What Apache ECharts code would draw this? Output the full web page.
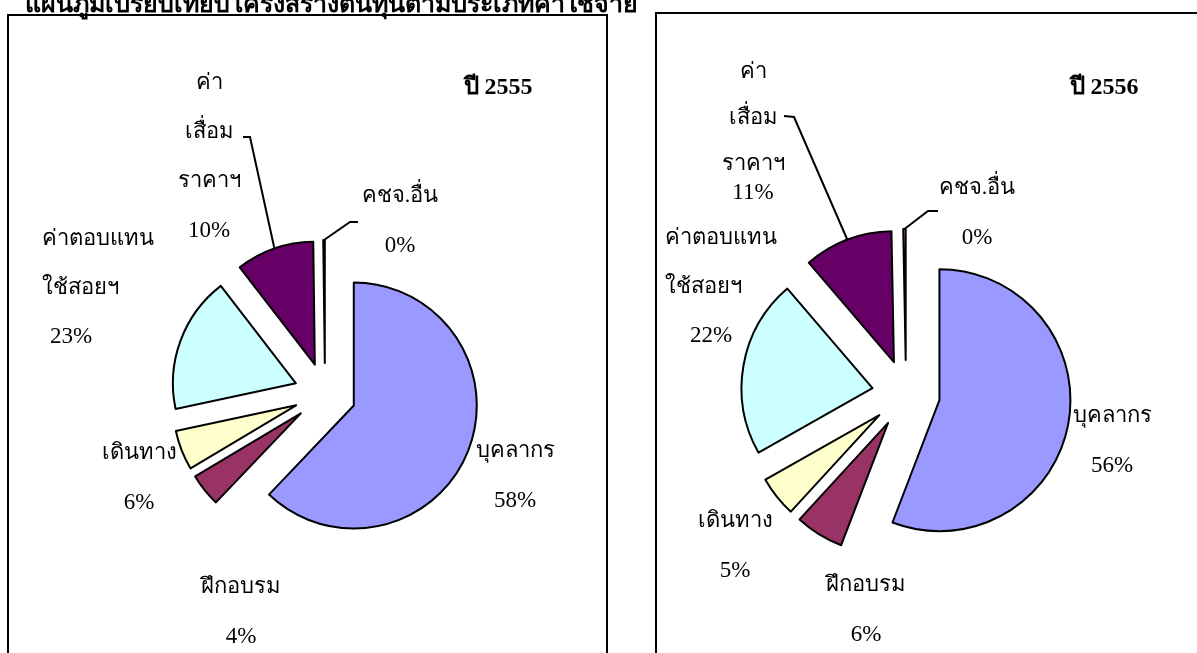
<!DOCTYPE html>
<html><head><meta charset="utf-8">
<script src="https://cdn.jsdelivr.net/npm/echarts@6/dist/echarts.min.js"></script>
<style>html,body{margin:0;padding:0;background:#fff}#c{width:1197px;height:653px}</style>
</head><body><div id="c"></div>
<script>
// ---- data ----
const titleText = 'แผนภูมิเปรียบเทียบโครงสร้างต้นทุนตามประเภทค่าใช้จ่าย';
const categories = ['บุคลากร', 'ฝึกอบรม', 'เดินทาง', 'ค่าตอบแทนใช้สอยฯ', 'ค่าเสื่อมราคาฯ', 'คชจ.อื่น'];
const labelNames = ['บุคลากร', 'ฝึกอบรม', 'เดินทาง', 'ค่าตอบแทน\nใช้สอยฯ', 'ค่า\nเสื่อม\nราคาฯ', 'คชจ.อื่น'];
const years = ['ปี 2555', 'ปี 2556'];
// slice sizes as drawn
const values2555 = [61.8, 4.3, 5.2, 17.8, 10.2, 0.2];
const values2556 = [56, 6, 5, 22, 11, 0.3];
// percentages printed on the chart
const pct2555 = ['58%', '4%', '6%', '23%', '10%', '0%'];
const pct2556 = ['56%', '6%', '5%', '22%', '11%', '0%'];
const colors = ['#9999FF', '#993366', '#FFFFCC', '#CCFFFF', '#660066', '#FF8080'];

// ---- layout (positions only) ----
const layouts = [
  {
    center: [325, 394], radius: 123, offset: 31,
    labels: [[515, 476, 'center'], [241, 612, 'center'], [139, 478, 'center'], [42, 288, 'left'], [209, 157, 'center'], [400, 221, 'center']],
    leaders: { 4: [[250, 137], [243, 137]], 5: [[350, 222], [358, 222]] },
    compact: [], indent: { 3: 8 },
    yearPos: [498, 88]
  },
  {
    center: [906, 394], radius: 131, offset: 34,
    labels: [[1112, 441, 'center'], [866, 610, 'center'], [735, 546, 'center'], [665, 287, 'left'], [753, 124, 'center'], [977, 213, 'center']],
    leaders: { 4: [[794, 117], [784, 116]], 5: [[928, 211], [938, 211]] },
    compact: [4], indent: { 3: 25 },
    yearPos: [1104, 88]
  }
];

const serif = "'Liberation Serif','DejaVu Serif','Times New Roman',serif";

// exploded slices (no labels)
function sliceSeries(i, values) {
  const L = layouts[i];
  return {
    type: 'pie', name: years[i], center: L.center, radius: L.radius,
    startAngle: 90, clockwise: true,
    selectedMode: 'multiple', selectedOffset: L.offset,
    avoidLabelOverlap: false, animation: false, silent: true,
    itemStyle: { borderColor: '#000', borderWidth: 2 },
    select: { itemStyle: { borderColor: '#000', borderWidth: 2 } },
    emphasis: { disabled: true, scale: false },
    label: { show: false }, labelLine: { show: false },
    data: categories.map((c, k) => ({ name: c, value: values[k], selected: true, itemStyle: { color: colors[k] } }))
  };
}

// transparent twin carrying the data labels and leader lines
function labelSeries(i, values, pcts) {
  const L = layouts[i];
  const indentPx = Object.values(L.indent)[0] || 0;
  return {
    type: 'pie', name: years[i] + ' labels', center: L.center, radius: L.radius,
    startAngle: 90, clockwise: true, selectedMode: false,
    avoidLabelOverlap: false, animation: false, silent: true, z: 3,
    itemStyle: { color: 'rgba(0,0,0,0)', borderWidth: 0 },
    emphasis: { disabled: true, scale: false },
    label: {
      show: true, position: 'outside', color: '#000', fontFamily: serif, fontSize: 22,
      formatter: p => {
        const k = p.dataIndex;
        const compact = L.compact.indexOf(k) >= 0;
        const nTag = compact ? 'm' : 'n';
        const pTag = compact ? 'q' : (L.indent[k] != null ? 'ind' : 'p');
        const lines = labelNames[k].split('\n').map(s => '{' + nTag + '|' + s + '}');
        return lines.join('\n') + '\n{' + pTag + '|' + pcts[k] + '}';
      },
      rich: {
        n: { fontFamily: serif, fontSize: 22, lineHeight: 49, color: '#000' },
        m: { fontFamily: serif, fontSize: 22, lineHeight: 46, color: '#000' },
        p: { fontFamily: serif, fontSize: 23, lineHeight: 49, color: '#000' },
        q: { fontFamily: serif, fontSize: 23, lineHeight: 12, color: '#000' },
        ind: { fontFamily: serif, fontSize: 23, lineHeight: 49, color: '#000', padding: [0, 0, 0, indentPx] }
      }
    },
    labelLine: { show: false, length: 20, length2: 8, lineStyle: { color: '#000', width: 2 } },
    labelLayout: function (p) {
      const pos = L.labels[p.dataIndex];
      const r = { x: pos[0], y: pos[1], align: pos[2], verticalAlign: 'middle' };
      const ld = L.leaders[p.dataIndex];
      if (ld && p.labelLinePoints) {
        const p0 = p.labelLinePoints[0];
        const vx = p0[0] - L.center[0], vy = p0[1] - L.center[1];
        const len = Math.sqrt(vx * vx + vy * vy) || 1;
        const start = [p0[0] + vx / len * L.offset, p0[1] + vy / len * L.offset];
        r.labelLinePoints = [start, ld[0], ld[1]];
      }
      return r;
    },
    data: categories.map((c, k) => ({
      name: c, value: values[k],
      labelLine: { show: L.leaders[k] != null }
    }))
  };
}

const chart = echarts.init(document.getElementById('c'), null, { renderer: 'canvas' });
const yearText = (i) => ({
  type: 'text', x: layouts[i].yearPos[0], y: layouts[i].yearPos[1],
  style: { text: years[i], fontFamily: serif, fontSize: 24, fontWeight: 'bold', fill: '#000', textAlign: 'center', textVerticalAlign: 'middle' }
});
chart.setOption({
  backgroundColor: '#fff',
  animation: false,
  title: {
    text: titleText, left: 20, top: -12,
    textStyle: { fontFamily: "'DejaVu Sans','Noto Sans',sans-serif", fontSize: 25, fontWeight: 'bold', color: '#000' }
  },
  graphic: [
    { type: 'rect', shape: { x: 8, y: 15, width: 599, height: 660 }, style: { fill: 'none', stroke: '#000', lineWidth: 2 }, z: -1 },
    { type: 'rect', shape: { x: 656, y: 13, width: 560, height: 660 }, style: { fill: 'none', stroke: '#000', lineWidth: 2 }, z: -1 },
    yearText(0), yearText(1)
  ],
  series: [
    sliceSeries(0, values2555), labelSeries(0, values2555, pct2555),
    sliceSeries(1, values2556), labelSeries(1, values2556, pct2556)
  ]
});
</script>
</body></html>
